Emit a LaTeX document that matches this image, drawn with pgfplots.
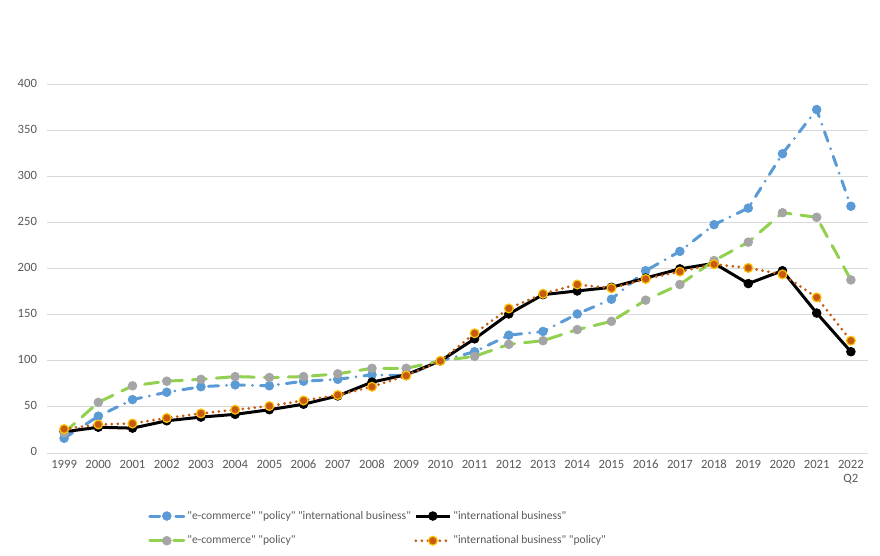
\documentclass[border=0pt]{standalone}
\usepackage{fontspec}
\setmainfont{Carlito}[Ligatures=TeXOff]
\usepackage{pgfplots}
\pgfplotsset{compat=1.18}
\definecolor{cblue}{RGB}{91,155,213}
\definecolor{cgreen}{RGB}{146,208,80}
\definecolor{cgray}{RGB}{165,165,165}
\definecolor{corange}{RGB}{197,90,17}
\definecolor{cgold}{RGB}{255,192,0}
\definecolor{gridc}{RGB}{217,217,217}
\definecolor{txt}{RGB}{89,89,89}
\begin{document}
\begin{tikzpicture}
\begin{axis}[
  scale only axis,
  width=615.75pt, height=339.75pt,
  xmin=-0.5, xmax=23.5, ymin=0, ymax=492,
  axis line style={draw=none},
  tick style={draw=none},
  ymajorgrids=true, xmajorgrids=false,
  grid style={draw=gridc, line width=0.75pt},
  ytick={0,50,...,400},
  xtick={0,...,23},
  xticklabels={1999,2000,2001,2002,2003,2004,2005,2006,2007,2008,2009,2010,2011,2012,2013,2014,2015,2016,2017,2018,2019,2020,2021,{2022\\Q2}},
  typeset ticklabels with strut,
  xticklabel style={align=center, font=\fontsize{9.5}{10.5}\selectfont, text=txt, anchor=north, yshift=-1pt},
  yticklabel style={font=\fontsize{9.5}{10.5}\selectfont, text=txt, xshift=-4pt},
  major tick length=0pt,
  /pgf/number format/assume math mode=true,
  clip=false,
  legend columns=2,
  legend style={at={(0.123,-0.123)}, anchor=north west, draw=none, fill=none,
    font=\fontsize{8.7}{10}\selectfont, text=txt, row sep=8pt, column sep=0pt,
    inner sep=0pt,
    nodes={inner sep=1.5pt},
    /tikz/every even column/.append style={column sep=1pt}},
  legend cell align=left,
  legend image code/.code={\draw[mark repeat=2,mark phase=2] plot coordinates {(0cm,0cm)(0.45cm,0cm)(0.9cm,0cm)};},
]
\addplot[cblue, line width=2.25pt, line cap=round, dash pattern=on 7.5pt off 6pt on 0pt off 6pt,
  mark=*, mark size=3.3pt, mark options={solid, fill=cblue, draw=cblue, line width=0.5pt}]
  coordinates {(0,16)(1,40)(2,58)(3,66)(4,72)(5,74)(6,73)(7,78)(8,80)(9,85)(10,84)(11,100)(12,110)(13,128)(14,132)(15,151)(16,167)(17,198)(18,219)(19,248)(20,266)(21,325)(22,373)(23,268)};
\addlegendentry{"e-commerce" "policy" "international business"}
\addplot[black, line width=2.25pt, mark=*, mark size=3.3pt, mark options={solid, fill=black, line width=0.5pt}]
  coordinates {(0,23)(1,28)(2,27)(3,35)(4,39)(5,42)(6,47)(7,53)(8,62)(9,77)(10,85)(11,100)(12,124)(13,151)(14,172)(15,176)(16,180)(17,190)(18,200)(19,206)(20,184)(21,198)(22,152)(23,110)};
\addlegendentry{"international business"}
\addplot[cgreen, line width=2.25pt, line cap=round, dash pattern=on 10.5pt off 7.5pt,
  mark=*, mark size=3.3pt, mark options={solid, fill=cgray, draw=cgray, line width=0.5pt}]
  coordinates {(0,22)(1,55)(2,73)(3,78)(4,80)(5,83)(6,82)(7,83)(8,86)(9,92)(10,92)(11,100)(12,105)(13,118)(14,122)(15,134)(16,143)(17,166)(18,183)(19,209)(20,229)(21,261)(22,256)(23,188)};
\addlegendentry{"e-commerce" "policy"}
\addplot[corange, line width=2.25pt, line cap=round, dash pattern=on 0pt off 4.5pt,
  mark=*, mark size=3.3pt, mark options={solid, fill=corange, draw=cgold, line width=0.9pt}]
  coordinates {(0,26)(1,31)(2,32)(3,38)(4,43)(5,47)(6,51)(7,57)(8,63)(9,72)(10,84)(11,100)(12,130)(13,157)(14,173)(15,183)(16,179)(17,189)(18,197)(19,205)(20,201)(21,194)(22,169)(23,122)};
\addlegendentry{"international business" "policy"}
\coordinate (O) at (rel axis cs:0,0);
\coordinate (T) at (rel axis cs:1,1);
\end{axis}
\pgfresetboundingbox
\path[use as bounding box] ([xshift=-35.25pt,yshift=-76.5pt]O) rectangle ([xshift=9pt]T);
\end{tikzpicture}
\end{document}
